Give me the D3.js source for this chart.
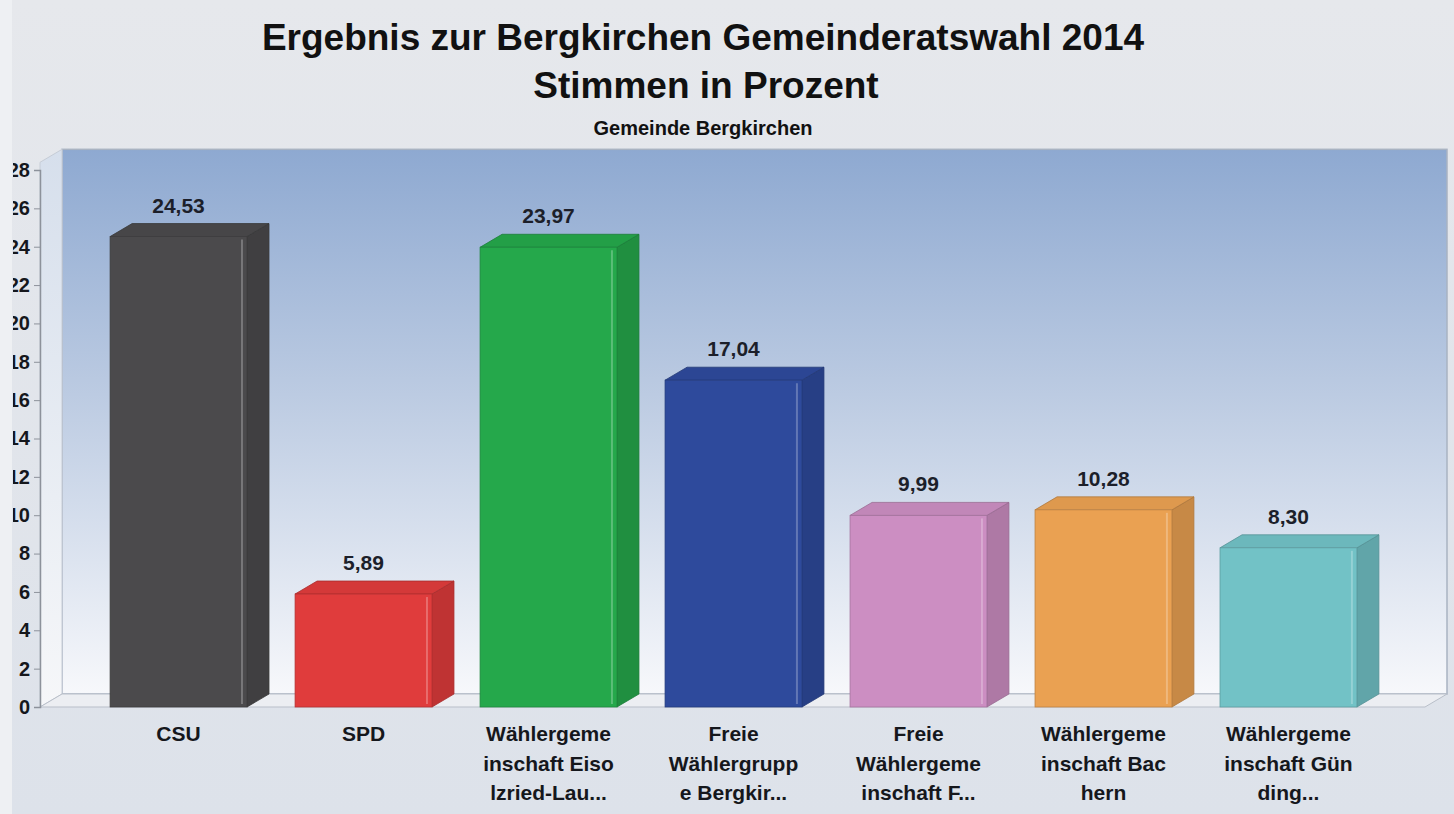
<!DOCTYPE html>
<html>
<head>
<meta charset="utf-8">
<script src="https://cdn.jsdelivr.net/npm/d3@7"></script>
<style>
  body { margin: 0; background: #dfe3ea; }
  text { font-family: "Liberation Sans", Arial, sans-serif; font-weight: bold; }
</style>
</head>
<body>
<div id="chart"></div>
<script>
// Daten
let parties = ['CSU', 'SPD', 'Wählergemeinschaft Eisolzried-Lau', 'Freie Wählergruppe Bergkir', 'Freie Wählergemeinschaft F', 'Wählergemeinschaft Bachern', 'Wählergemeinschaft Günding'];
let labelLines = [
    ['CSU'],
    ['SPD'],
    ['Wählergeme', 'inschaft Eiso', 'lzried-Lau...'],
    ['Freie', 'Wählergrupp', 'e Bergkir...'],
    ['Freie', 'Wählergeme', 'inschaft F...'],
    ['Wählergeme', 'inschaft Bac', 'hern'],
    ['Wählergeme', 'inschaft Gün', 'ding...']
];
let values = [24.53, 5.89, 23.97, 17.04, 9.99, 10.28, 8.30];
let colors = ['#4b4a4c', '#e03c3c', '#25a84b', '#2e4a9c', '#cc8ec2', '#eaa152', '#72c2c6'];
let yTicks = d3.range(0, 29, 2);

let width = 1454;
let height = 814;
let dx = 22, dy = 13;   // Tiefe der 3D-Darstellung

let svg = d3.select('#chart').append('svg')
    .attr('width', width).attr('height', height);

let defs = svg.append('defs');
let wallGrad = defs.append('linearGradient').attr('id', 'wallGrad')
    .attr('x1', 0).attr('y1', 0).attr('x2', 0).attr('y2', 1);
wallGrad.append('stop').attr('offset', '0%').attr('stop-color', '#8ea9d1');
wallGrad.append('stop').attr('offset', '45%').attr('stop-color', '#bccbe2');
wallGrad.append('stop').attr('offset', '100%').attr('stop-color', '#f7f8fb');
let sideGrad = defs.append('linearGradient').attr('id', 'sideGrad')
    .attr('x1', 0).attr('y1', 0).attr('x2', 0).attr('y2', 1);
sideGrad.append('stop').attr('offset', '0%').attr('stop-color', '#d6dfec');
sideGrad.append('stop').attr('offset', '100%').attr('stop-color', '#f6f7f9');
let bgGrad = defs.append('linearGradient').attr('id', 'bgGrad')
    .attr('x1', 0).attr('y1', 0).attr('x2', 0).attr('y2', 1);
bgGrad.append('stop').attr('offset', '0%').attr('stop-color', '#e6e8ec');
bgGrad.append('stop').attr('offset', '100%').attr('stop-color', '#dde2ea');
defs.append('clipPath').attr('id', 'leftClip')
    .append('rect').attr('x', 13).attr('y', 0).attr('width', width).attr('height', height);

svg.append('rect').attr('width', width).attr('height', height).attr('fill', 'url(#bgGrad)');
svg.append('rect').attr('width', 12).attr('height', height).attr('fill', '#eef0f3');

let xScale = d3.scaleBand()
    .domain(parties)
    .range([62, 1405])
    .paddingInner(0.26)
    .paddingOuter(0.26);
let yScale = d3.scaleLinear()
    .domain([0, 28])
    .range([707, 170]);

// Wände und Boden
let wallTop = yScale(28.4) - dy;
let wallLeft = 40 + dx, wallRight = 1447;
svg.append('rect')
    .attr('x', wallLeft).attr('y', wallTop)
    .attr('width', wallRight - wallLeft).attr('height', yScale(0) - dy - wallTop)
    .attr('fill', 'url(#wallGrad)')
    .attr('stroke', '#a9b3c2').attr('stroke-width', 1.5);
svg.append('polygon')
    .attr('points', [[40, wallTop + dy], [wallLeft, wallTop], [wallLeft, yScale(0) - dy], [40, yScale(0)]].join(' '))
    .attr('fill', 'url(#sideGrad)')
    .attr('stroke', '#c6ccd6');
svg.append('polygon')
    .attr('points', [[40, yScale(0)], [wallLeft, yScale(0) - dy], [wallRight, yScale(0) - dy], [wallRight - dx, yScale(0)]].join(' '))
    .attr('fill', '#eceef2')
    .attr('stroke', '#b9bfc9');

// Balken
let bars = svg.selectAll('g.bar')
    .data(values)
    .enter()
    .append('g')
    .attr('class', 'bar');

bars.append('polygon')   // Seite
    .attr('points', (d, i) => {
        let x1 = xScale(parties[i]) + xScale.bandwidth();
        return [[x1, yScale(d)], [x1 + dx, yScale(d) - dy], [x1 + dx, yScale(0) - dy], [x1, yScale(0)]].join(' ');
    })
    .attr('fill', (d, i) => d3.color(colors[i]).darker(0.45))
    .attr('stroke', (d, i) => d3.color(colors[i]).darker(0.8)).attr('stroke-width', 0.8);
bars.append('polygon')   // Deckel
    .attr('points', (d, i) => {
        let x0 = xScale(parties[i]), x1 = x0 + xScale.bandwidth();
        return [[x0, yScale(d)], [x0 + dx, yScale(d) - dy], [x1 + dx, yScale(d) - dy], [x1, yScale(d)]].join(' ');
    })
    .attr('fill', (d, i) => d3.color(colors[i]).darker(0.15))
    .attr('stroke', (d, i) => d3.color(colors[i]).darker(0.8)).attr('stroke-width', 0.8);
bars.append('rect')      // Vorderseite
    .attr('x', (d, i) => xScale(parties[i]))
    .attr('y', d => yScale(d))
    .attr('width', xScale.bandwidth())
    .attr('height', d => yScale(0) - yScale(d))
    .attr('fill', (d, i) => colors[i])
    .attr('stroke', (d, i) => d3.color(colors[i]).darker(0.6)).attr('stroke-width', 0.8);
bars.append('line')      // Glanzlinie
    .attr('x1', (d, i) => xScale(parties[i]) + xScale.bandwidth() - 5)
    .attr('x2', (d, i) => xScale(parties[i]) + xScale.bandwidth() - 5)
    .attr('y1', d => yScale(d) + 3)
    .attr('y2', yScale(0) - 3)
    .attr('stroke', '#ffffff').attr('stroke-opacity', 0.25).attr('stroke-width', 2);

// Werte
svg.selectAll('text.value')
    .data(values)
    .enter()
    .append('text')
    .attr('class', 'value')
    .attr('x', (d, i) => xScale(parties[i]) + xScale.bandwidth() / 2)
    .attr('y', d => yScale(d) - dy - 11)
    .attr('text-anchor', 'middle')
    .attr('font-size', '21px')
    .attr('fill', '#1c1f2a')
    .text(d => d3.format('.2f')(d).replace('.', ','));

// x-Beschriftung
let xLabels = svg.selectAll('text.xlabel')
    .data(labelLines)
    .enter()
    .append('text')
    .attr('class', 'xlabel')
    .attr('text-anchor', 'middle')
    .attr('font-size', '21px')
    .attr('fill', '#15171c');
xLabels.selectAll('tspan')
    .data((d, i) => d.map(t => ({ t: t, i: i })))
    .enter()
    .append('tspan')
    .attr('x', d => xScale(parties[d.i]) + xScale.bandwidth() / 2)
    .attr('y', (d, j) => 741 + j * 29.5)
    .text(d => d.t);

// y-Achse (linker Rand abgeschnitten wie im Original)
let yAxis = d3.axisLeft(yScale)
    .tickValues(yTicks)
    .tickSize(6)
    .tickPadding(4);
let yg = svg.append('g')
    .attr('clip-path', 'url(#leftClip)')
    .append('g')
    .attr('transform', 'translate(40,0)')
    .call(yAxis);
yg.select('.domain').attr('stroke', '#8d929b').attr('stroke-width', 1.5);
yg.selectAll('.tick line').attr('stroke', '#8d929b');
yg.selectAll('.tick text')
    .attr('font-size', '20px')
    .attr('font-family', '"Liberation Sans", Arial, sans-serif')
    .attr('font-weight', 'bold')
    .attr('fill', '#15171c');

// Titel
svg.append('text')
    .attr('x', 703).attr('y', 50)
    .attr('text-anchor', 'middle')
    .attr('font-size', '37px')
    .attr('fill', '#111')
    .text('Ergebnis zur Bergkirchen Gemeinderatswahl 2014');
svg.append('text')
    .attr('x', 706).attr('y', 98)
    .attr('text-anchor', 'middle')
    .attr('font-size', '37px')
    .attr('fill', '#111')
    .text('Stimmen in Prozent');
svg.append('text')
    .attr('x', 703).attr('y', 135)
    .attr('text-anchor', 'middle')
    .attr('font-size', '20px')
    .attr('fill', '#111')
    .text('Gemeinde Bergkirchen');
</script>
</body>
</html>
